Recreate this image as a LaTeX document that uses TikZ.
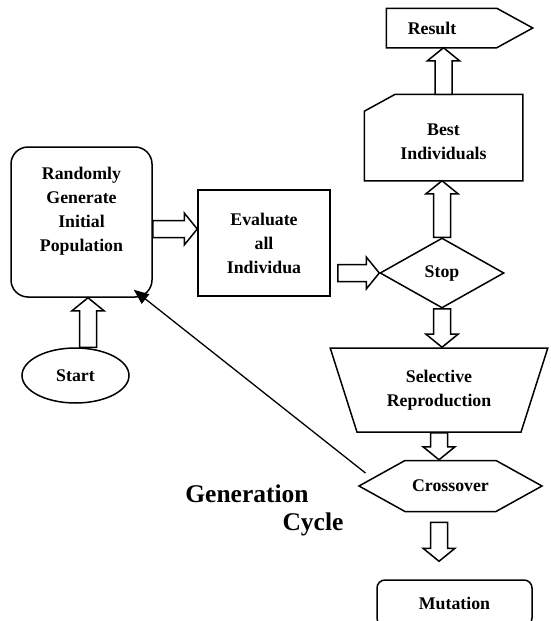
\documentclass[tikz,border=0pt]{standalone}
\usepackage{fontspec}
\setmainfont{Liberation Serif}
\usetikzlibrary{positioning,arrows.meta,calc,shapes.geometric,shapes.symbols}

\begin{document}
\begin{tikzpicture}[
  x=1pt, y=-1pt,
  line width=1.5pt,
  every node/.style={font=\bfseries\fontsize{17.8}{24}\selectfont, inner sep=0pt},
  box/.style={draw, align=center, fill=white},
  rbox/.style={box, rounded corners=17pt},
  lbl/.style={align=center},
  big/.style={font=\bfseries\fontsize{25.5}{30}\selectfont},
  blk/.style={draw, fill=white, line join=miter, to path={
      ($(\tikztotarget)!13pt!(\tikztostart)$) coordinate (bb)
      ($(\tikztostart)!8.5pt!90:(\tikztotarget)$)
      -- ($(bb)!8.5pt!90:(\tikztotarget)$) -- ($(bb)!16pt!90:(\tikztotarget)$)
      -- (\tikztotarget)
      -- ($(bb)!16pt!-90:(\tikztotarget)$) -- ($(bb)!8.5pt!-90:(\tikztotarget)$)
      -- ($(\tikztostart)!8.5pt!-90:(\tikztotarget)$) -- cycle}},
  back/.style={-{Triangle[length=15pt,width=12pt]}, line width=1.3pt}
]
  \useasboundingbox (0,0) rectangle (550,621);

  \node[rbox, minimum width=141pt, minimum height=150pt] (init) at (81.5,222) {};
  \node[lbl] (initlbl) at (81.5,211) {Randomly\\Generate\\Initial\\Population};
  \node[box, minimum width=132pt, minimum height=106pt] (eval) at (264,243) {Evaluate\\all\\Individua};

  \node[minimum width=157pt, minimum height=85pt] (best) at (443.5,137.5) {};
  \draw (best.south west) -- ([yshift=-17pt]best.north west) -- ([xshift=31pt]best.north west)
    -- (best.north east) -- (best.south east) -- cycle;
  \node[lbl] (bestlbl) at (443.5,142) {Best\\Individuals};

  \node[minimum width=145pt, minimum height=38pt] (result) at (459.5,28) {};
  \draw (result.south west) -- (result.north west) -- ([xshift=-36pt]result.north east)
    -- (result.east) -- ([xshift=-36pt]result.south east) -- cycle;
  \node[lbl] (resultlbl) at (432,28) {Result};

  \node[draw, diamond, minimum width=124pt, minimum height=70pt] (stop) at (442,273) {Stop};
  \node[draw, trapezium, trapezium angle=113, trapezium stretches=true,
        minimum width=218pt, minimum height=84pt, align=center] (sel) at (439,390) {Selective\\Reproduction};
  \node[draw, signal, signal to=west and east, signal pointer angle=58,
        minimum width=183pt, minimum height=51pt] (cross) at (450.5,486) {Crossover};
  \node[draw, ellipse, minimum width=107pt, minimum height=55pt] (start) at (75.5,375.5) {Start};
  \node[box, rounded corners=8pt, minimum width=155pt, minimum height=46pt] (mut) at (454.5,603) {Mutation};

  \node[big] (gen) at (247,494) {Generation};
  \node[big] (cyc) at (313,524) {Cycle};

  \draw[blk] ([xshift=12.5pt]start.north) to ([xshift=6.5pt]init.south);
  \draw[blk] ([yshift=-7pt]init.east) to ([yshift=14pt]eval.west);
  \draw[blk] ($(eval.east |- stop.west)+(7,0)$) to (stop.west);
  \draw[blk] (stop.north) to (stop.north |- best.south);
  \draw[blk] (best.north) to (best.north |- result.south);
  \draw[blk] (stop.south) to (stop.south |- sel.north);
  \draw[blk] (sel.south) to (sel.south |- cross.north);
  \draw[blk] ($(sel.south |- cross.south)+(0,10)$) to ($(sel.south |- mut.north)+(0,-18)$);

  \draw[back] ($(cross.west)+(8,-13)$) -- ($(init.south east)+(-19,-8)$);
\end{tikzpicture}
\end{document}
